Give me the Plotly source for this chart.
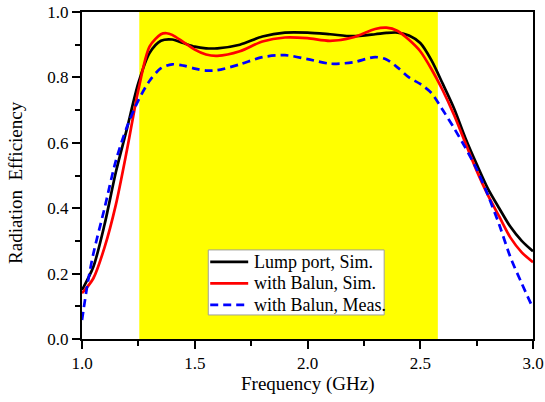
import plotly.graph_objects as go

# ---- data ----
freq_lump = [1.00, 1.05, 1.10, 1.15, 1.20, 1.25, 1.30, 1.35, 1.40, 1.45, 1.50, 1.55, 1.60, 1.70, 1.80,
             1.90, 2.00, 2.10, 2.20, 2.30, 2.35, 2.40, 2.45, 2.50, 2.55, 2.60, 2.65, 2.70, 2.75, 2.80,
             2.85, 2.90, 2.95, 3.00]
eff_lump = [0.150, 0.220, 0.350, 0.510, 0.645, 0.783, 0.875, 0.912, 0.916, 0.905, 0.894, 0.889, 0.889,
            0.900, 0.925, 0.937, 0.937, 0.932, 0.926, 0.932, 0.936, 0.937, 0.928, 0.905, 0.852, 0.780,
            0.705, 0.615, 0.535, 0.460, 0.400, 0.343, 0.300, 0.268]

freq_balun_sim = [1.00, 1.05, 1.10, 1.15, 1.20, 1.25, 1.30, 1.35, 1.375, 1.40, 1.45, 1.50, 1.55, 1.60,
                  1.70, 1.80, 1.90, 2.00, 2.10, 2.20, 2.30, 2.35, 2.40, 2.45, 2.50, 2.55, 2.60, 2.65,
                  2.70, 2.75, 2.80, 2.85, 2.90, 2.95, 3.00]
eff_balun_sim = [0.140, 0.185, 0.280, 0.410, 0.580, 0.762, 0.895, 0.932, 0.935, 0.930, 0.908, 0.885,
                 0.870, 0.866, 0.880, 0.910, 0.922, 0.920, 0.912, 0.922, 0.948, 0.952, 0.942, 0.915,
                 0.880, 0.825, 0.760, 0.685, 0.600, 0.515, 0.440, 0.375, 0.310, 0.265, 0.235]

freq_balun_meas = [1.00, 1.025, 1.05, 1.10, 1.15, 1.20, 1.25, 1.30, 1.35, 1.40, 1.45, 1.50, 1.55, 1.60,
                   1.70, 1.80, 1.90, 2.00, 2.10, 2.20, 2.30, 2.35, 2.40, 2.45, 2.50, 2.55, 2.60, 2.65,
                   2.70, 2.75, 2.80, 2.85, 2.90, 2.95, 3.00]
eff_balun_meas = [0.058, 0.170, 0.260, 0.400, 0.545, 0.650, 0.730, 0.790, 0.828, 0.840, 0.836, 0.827,
                  0.821, 0.822, 0.840, 0.862, 0.868, 0.856, 0.842, 0.846, 0.862, 0.855, 0.830, 0.800,
                  0.780, 0.752, 0.700, 0.645, 0.585, 0.520, 0.440, 0.350, 0.250, 0.170, 0.094]

series_names = ["Lump port, Sim.", "with Balun, Sim.", "with Balun, Meas."]
series_colors = ["#000000", "#ff0000", "#0000ff"]
series_dash = ["solid", "solid", "8px,5px"]
band_ghz = [1.254, 2.578]

x_ticks = [1.0, 1.5, 2.0, 2.5, 3.0]
y_ticks = [0.0, 0.2, 0.4, 0.6, 0.8, 1.0]

FONT = "Liberation Serif, Times New Roman, serif"
LW = 2.7

fig = go.Figure()
for fx, fy, nm, col, ds in zip([freq_lump, freq_balun_sim, freq_balun_meas],
                               [eff_lump, eff_balun_sim, eff_balun_meas],
                               series_names, series_colors, series_dash):
    fig.add_trace(go.Scatter(x=fx, y=fy, mode="lines", name=nm, showlegend=False,
                             line=dict(color=col, width=LW, shape="spline", smoothing=0.8, dash=ds)))

# highlighted operating band
fig.add_shape(type="rect", xref="x", yref="paper", x0=band_ghz[0], x1=band_ghz[1], y0=0, y1=1,
              fillcolor="#ffff00", line=dict(width=0), layer="below")

# legend box (paper coordinates)
leg_x0, leg_x1, leg_y0, leg_y1 = 0.280, 0.670, 0.0735, 0.2724
fig.add_shape(type="rect", xref="paper", yref="paper", x0=leg_x0, x1=leg_x1, y0=leg_y0, y1=leg_y1,
              fillcolor="white", line=dict(color="#a0a098", width=1), layer="above")
row_y = [0.2357, 0.1699, 0.1041]
for ry, nm, col, ds in zip(row_y, series_names, series_colors, series_dash):
    fig.add_shape(type="line", xref="paper", yref="paper", x0=0.2843, x1=0.3685, y0=ry, y1=ry,
                  line=dict(color=col, width=LW, dash=ds), layer="above")
    fig.add_annotation(xref="paper", yref="paper", x=0.3762, y=ry, xanchor="left", yanchor="middle",
                       text=nm, showarrow=False, font=dict(family=FONT, size=18, color="black"))

# axis titles
fig.add_annotation(xref="paper", yref="paper", x=0.5, y=-0.138, xanchor="center", yanchor="middle",
                   text="Frequency (GHz)", showarrow=False, font=dict(family=FONT, size=19, color="black"))
fig.add_annotation(xref="paper", yref="paper", x=-0.148, y=0.478, xanchor="center", yanchor="middle",
                   text="Radiation  Efficiency", textangle=-90, showarrow=False,
                   font=dict(family=FONT, size=19, color="black"))

fig.update_layout(
    width=545, height=402,
    margin=dict(l=82, r=12, t=12, b=63, autoexpand=False),
    paper_bgcolor="white", plot_bgcolor="white",
    font=dict(family=FONT, size=16, color="black"),
    showlegend=False,
)
fig.update_xaxes(range=[1.0, 3.0], tickvals=x_ticks, tickformat=".1f", automargin=False,
                 showline=True, linecolor="black", linewidth=2, mirror=True,
                 ticks="outside", ticklen=8, tickwidth=1.5, tickcolor="black",
                 minor=dict(ticks="outside", ticklen=5, tickwidth=1.5, tickcolor="black", dtick=0.25),
                 showgrid=False, zeroline=False,
                 tickfont=dict(family=FONT, size=17, color="black"))
fig.update_yaxes(range=[0.0, 1.0], tickvals=y_ticks, tickformat=".1f", automargin=False,
                 showline=True, linecolor="black", linewidth=2, mirror=True,
                 ticks="outside", ticklen=8, tickwidth=1.5, tickcolor="black",
                 minor=dict(ticks="outside", ticklen=5, tickwidth=1.5, tickcolor="black", dtick=0.1),
                 showgrid=False, zeroline=False,
                 tickfont=dict(family=FONT, size=17, color="black"))

fig.write_html("out.html")
